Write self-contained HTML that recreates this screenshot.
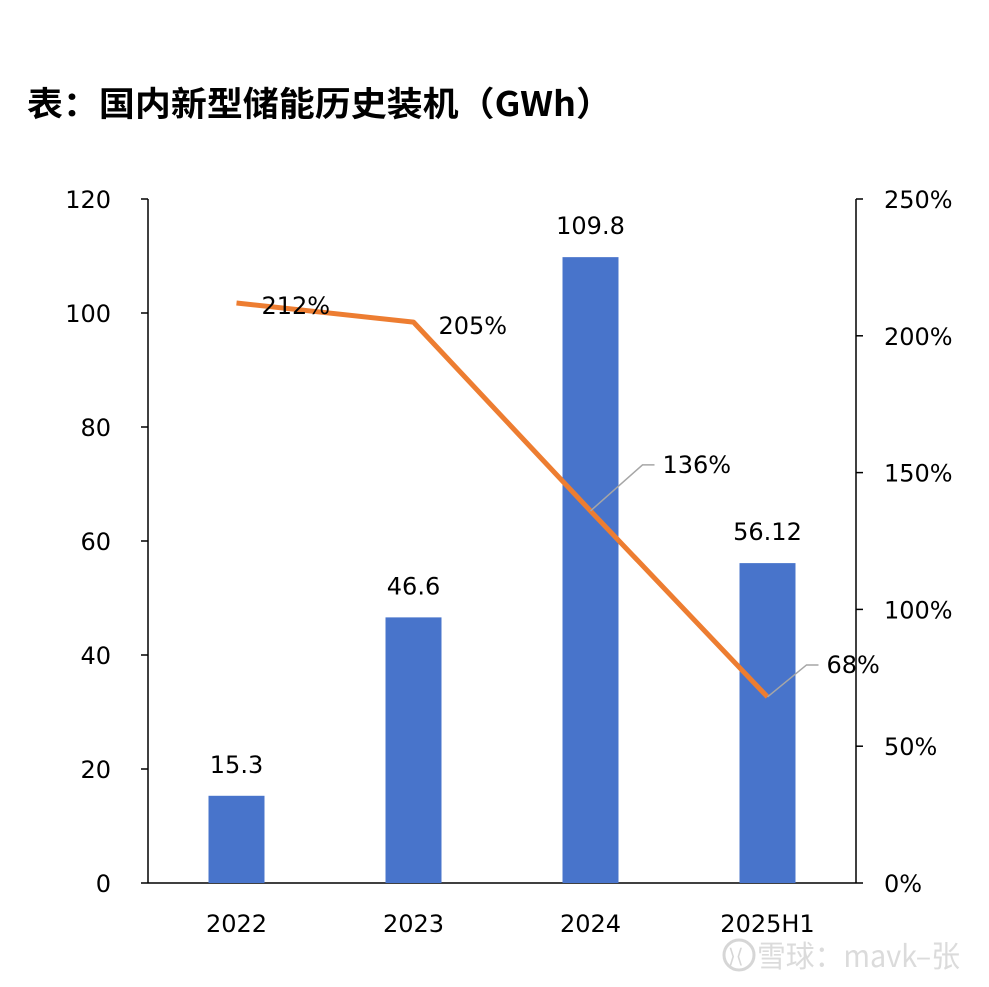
<!DOCTYPE html>
<html><head><meta charset="utf-8"><style>
html,body{margin:0;padding:0;background:#fff;}
svg{display:block;font-family:"DejaVu Sans","Noto Sans CJK SC",sans-serif;}
</style></head><body>
<svg id="chart" width="989" height="987" viewBox="0 0 989 987">
<text x="27" y="116" font-size="34" font-weight="bold" font-family="'Noto Sans CJK SC',sans-serif" textLength="585" lengthAdjust="spacingAndGlyphs">表：国内新型储能历史装机（GWh）</text>
<g id="axes"></g><g id="bars"></g><g id="line"></g><g id="labels"></g>
<g opacity="0.6">
<circle cx="739" cy="955" r="15" fill="none" stroke="#bbb" stroke-width="3"/>
<text x="728" y="963" font-size="20" fill="#bbb">⟩⟨</text>
<text x="757" y="967" font-size="30" fill="#c4c4c4" font-family="'Noto Sans CJK SC',sans-serif" textLength="203" lengthAdjust="spacingAndGlyphs">雪球：mavk–张</text>
</g>
</svg>
<script>
const categories=["2022","2023","2024","2025H1"];
const volumes=[15.3,46.6,109.8,56.12];
const volumeLabels=["15.3","46.6","109.8","56.12"];
const growth=[212,205,136,68];
const growthLabels=["212%","205%","136%","68%"];
const leftTicks=[0,20,40,60,80,100,120];
const rightTicks=[0,50,100,150,200,250];
const NS="http://www.w3.org/2000/svg";
const X0=148,X1=856,Y0=883,Y1=199;
const band=(X1-X0)/categories.length;
const xc=i=>X0+band*(i+0.5);
const yL=v=>Y0-(v/120)*(Y0-Y1);
const yR=v=>Y0-(v/250)*(Y0-Y1);
function mk(tag,attrs,parent,text){const e=document.createElementNS(NS,tag);for(const k in attrs)e.setAttribute(k,attrs[k]);if(text!==undefined)e.textContent=text;parent.appendChild(e);return e;}
const axes=document.getElementById('axes');
let e=mk('line',{x1:X0,y1:Y1,x2:X0,y2:Y0,stroke:'#000','stroke-width':1.5},axes);

e=mk('line',{x1:X1,y1:Y1,x2:X1,y2:Y0,stroke:'#000','stroke-width':1.5},axes);

e=mk('line',{x1:X0,y1:Y0,x2:X1,y2:Y0,stroke:'#000','stroke-width':1.5},axes);

leftTicks.forEach(t=>{const y=yL(t);
 mk('line',{x1:X0-7,y1:y,x2:X0,y2:y,stroke:'#000','stroke-width':1.5},axes);
 const l=mk('text',{x:X0-37,y:y+9,'font-size':24,'text-anchor':'end'},axes,String(t));
 });
rightTicks.forEach(t=>{const y=yR(t);
 mk('line',{x1:X1,y1:y,x2:X1+7,y2:y,stroke:'#000','stroke-width':1.5},axes);
 const l=mk('text',{x:X1+28,y:y+9,'font-size':24},axes,t+'%');
 });
const bars=document.getElementById('bars');
categories.forEach((c,i)=>{
 const b=mk('rect',{x:xc(i)-28,y:yL(volumes[i]),width:56,height:Y0-yL(volumes[i]),fill:'#4874cb'},bars);
 
 const v=mk('text',{x:xc(i),y:yL(volumes[i])-23,'font-size':24,'text-anchor':'middle'},bars,volumeLabels[i]);
 
 const cl=mk('text',{x:xc(i),y:932,'font-size':24,'text-anchor':'middle'},bars,c);
 
});
const line=document.getElementById('line');
const pl=mk('polyline',{points:growth.map((g,i)=>xc(i)+','+yR(g)).join(' '),fill:'none',stroke:'#ed7d31','stroke-width':5,'stroke-linejoin':'round'},line);

const labels=document.getElementById('labels');
const offs=[[25,11,null],[25,12,null],[72,-38,true],[59,-24,true]];
growth.forEach((g,i)=>{const x=xc(i),y=yR(g);const o=offs[i];
 if(o[2]){const lx=x+o[0]-8,ly=y+o[1]-8;
  mk('polyline',{points:`${x},${y} ${lx-12},${ly} ${lx},${ly}`,fill:'none',stroke:'#a6a6a6','stroke-width':1.5},labels);}
 const t=mk('text',{x:x+o[0],y:y+o[1],'font-size':24},labels,growthLabels[i]);
 });
</script>
</body></html>
